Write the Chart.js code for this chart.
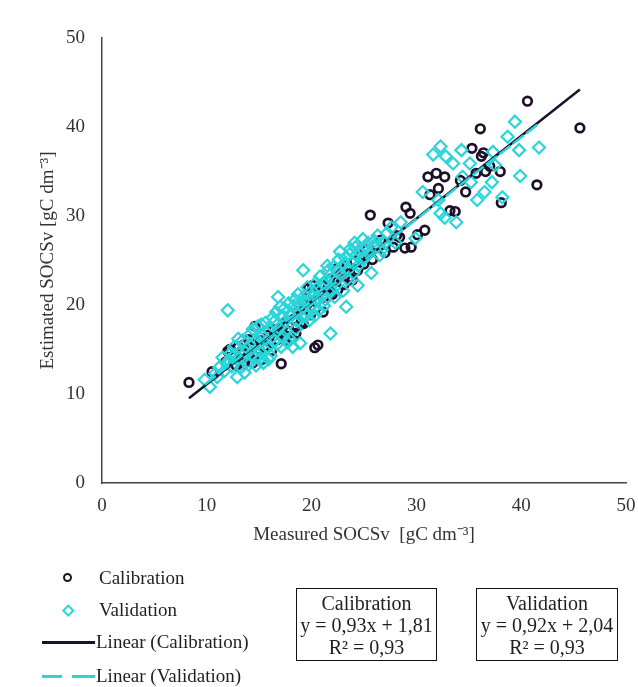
<!DOCTYPE html>
<html>
<head>
<meta charset="utf-8">
<script src="https://cdn.jsdelivr.net/npm/chart.js@4"></script>
<style>
  html, body { margin: 0; padding: 0; background: #fff; }
  #wrap { position: relative; width: 638px; height: 687px; font-family: "Liberation Serif", "Times New Roman", serif; color: #1f1f1f; }
  canvas { position: absolute; left: 0; top: 0; }
  .lg { position: absolute; font-size: 19px; line-height: 20px; white-space: nowrap; }
  .box { position: absolute; border: 1.5px solid #111; box-sizing: border-box; text-align: center; font-size: 20px; line-height: 22px; padding-top: 3px; white-space: nowrap; }
</style>
</head>
<body>
<div id="wrap">
  <canvas id="c" width="638" height="687"></canvas>
  <!-- legend -->
  <div style="position:absolute;left:63px;top:573px;width:5px;height:5px;border:2.8px solid #1e0f2a;border-radius:50%;"></div>
  <div class="lg" style="left:99px;top:568px;">Calibration</div>
  <div style="position:absolute;left:64px;top:606px;width:4.5px;height:4.5px;border:2px solid #2ad4da;transform:rotate(45deg);"></div>
  <div class="lg" style="left:99px;top:600px;">Validation</div>
  <div style="position:absolute;left:42px;top:641px;width:53px;height:2.5px;background:#1e0f2a;"></div>
  <div class="lg" style="left:96px;top:632px;">Linear (Calibration)</div>
  <div style="position:absolute;left:42px;top:675px;width:20px;height:2.5px;background:#2ad4da;"></div>
  <div style="position:absolute;left:72px;top:675px;width:23px;height:2.5px;background:#2ad4da;"></div>
  <div class="lg" style="left:96px;top:666px;">Linear (Validation)</div>
  <!-- equation boxes -->
  <div class="box" id="calBox" style="left:296px;top:588px;width:141px;height:73px;"></div>
  <div class="box" id="valBox" style="left:476px;top:588px;width:142px;height:73px;"></div>
</div>
<script>
// ---- data ----
const calibrationPoints = [
  [8.3,11.3],[10.5,12.5],[11.8,13.6],[12.0,14.8],[12.2,15.0],[12.5,14.2],[12.8,13.2],[13.0,15.3],[13.3,14.8],[13.5,13.4],
  [13.6,15.6],[13.9,14.1],[14.0,16.1],[14.2,15.2],[14.4,13.5],[14.6,17.6],[14.8,14.6],[15.0,15.0],[15.1,16.0],[15.3,13.9],
  [15.6,15.4],[15.9,16.6],[16.0,15.8],[16.2,14.9],[16.4,17.2],[16.7,16.1],[16.8,17.3],[17.0,16.8],[17.1,13.4],[17.3,17.9],
  [17.5,16.0],[17.6,16.5],[17.9,17.0],[18.1,16.2],[18.3,18.4],[18.5,16.8],[18.6,17.5],[18.8,19.3],[19.0,18.0],[19.2,17.9],
  [19.3,19.9],[19.5,20.8],[19.6,20.1],[19.7,21.9],[19.9,18.9],[20.0,21.3],[20.1,22.2],[20.3,15.2],[20.4,20.4],[20.6,15.5],
  [20.7,21.5],[20.9,22.3],[21.0,22.0],[21.1,19.2],[21.2,20.9],[21.5,21.8],[21.7,22.9],[21.9,21.5],[22.0,21.2],[22.2,22.6],
  [22.4,24.1],[22.5,21.7],[22.8,23.5],[23.0,23.8],[23.1,22.3],[23.4,24.4],[23.6,23.1],[23.9,22.8],[24.1,24.9],[24.4,23.9],
  [24.7,25.6],[25.0,24.6],[25.3,26.2],[25.6,30.1],[25.8,25.1],[26.2,26.7],[26.6,27.3],[27.0,25.9],[27.3,29.2],[27.8,26.5],
  [28.1,27.8],[28.4,27.6],[28.9,26.4],[29.0,31.0],[29.4,30.3],[29.5,26.5],[30.1,27.9],[30.8,28.4],[31.1,34.4],[31.3,32.4],
  [31.9,34.8],[32.1,33.1],[32.7,34.4],[33.2,30.6],[33.7,30.5],[34.2,34.0],[34.7,32.7],[35.3,37.6],[35.7,34.8],[36.1,39.8],
  [36.2,36.7],[36.4,37.1],[36.6,35.0],[37.0,35.6],[38.0,35.0],[38.1,31.5],[40.6,42.9],[41.5,33.5],[45.6,39.9]
];
const validationPoints = [
  [9.8,11.6],[10.3,10.8],[10.8,12.3],[11.0,11.9],[11.2,13.0],[11.5,14.1],[11.7,12.6],[11.9,13.4],[12.0,19.4],[12.1,13.8],
  [12.3,14.6],[12.4,13.1],[12.6,15.3],[12.7,14.4],[12.9,11.9],[13.0,16.2],[13.1,14.0],[13.3,13.0],[13.4,16.0],[13.6,12.4],
  [13.7,14.7],[13.8,15.1],[14.0,13.3],[14.1,15.5],[14.2,16.8],[14.3,14.4],[14.4,17.3],[14.5,15.7],[14.6,14.1],[14.7,13.2],
  [14.8,16.1],[14.9,17.6],[15.0,13.9],[15.1,14.8],[15.2,17.8],[15.3,16.5],[15.4,13.5],[15.5,15.0],[15.6,18.0],[15.7,16.9],
  [15.8,15.2],[15.9,13.9],[16.0,17.1],[16.1,14.3],[16.2,16.3],[16.3,18.6],[16.4,18.1],[16.5,16.0],[16.6,19.2],[16.7,15.6],
  [16.8,20.9],[16.9,17.4],[17.0,19.8],[17.1,15.3],[17.2,18.8],[17.3,16.4],[17.4,19.6],[17.5,18.2],[17.6,17.0],[17.7,15.8],
  [17.8,20.2],[17.9,16.2],[18.0,18.7],[18.1,19.0],[18.2,15.3],[18.3,19.9],[18.4,20.6],[18.5,17.3],[18.6,18.2],[18.7,21.2],
  [18.8,20.0],[18.9,15.7],[19.0,19.5],[19.1,18.6],[19.2,23.9],[19.3,21.0],[19.4,20.4],[19.5,18.8],[19.6,22.0],[19.7,20.5],
  [19.8,18.3],[19.9,19.9],[20.0,21.6],[20.1,20.9],[20.2,19.6],[20.3,18.8],[20.4,22.5],[20.5,21.9],[20.6,20.8],[20.7,19.4],
  [20.8,23.2],[21.0,21.1],[21.1,22.4],[21.2,19.9],[21.3,20.6],[21.4,22.8],[21.5,24.4],[21.6,23.9],[21.7,21.4],[21.8,16.8],
  [21.9,21.6],[22.0,22.9],[22.1,24.3],[22.2,20.9],[22.3,22.7],[22.5,23.8],[22.6,25.1],[22.7,26.0],[22.8,23.3],[23.0,21.6],
  [23.1,24.6],[23.2,25.3],[23.3,19.8],[23.4,22.9],[23.5,24.0],[23.6,25.7],[23.7,26.3],[23.9,24.7],[24.0,23.6],[24.1,27.0],
  [24.2,26.5],[24.3,25.6],[24.4,22.2],[24.5,24.5],[24.6,26.0],[24.8,25.2],[24.9,27.4],[25.1,25.3],[25.2,26.4],[25.4,27.0],
  [25.5,25.8],[25.7,23.6],[25.9,26.6],[26.0,27.2],[26.3,27.8],[26.5,25.6],[26.7,26.2],[27.0,27.0],[27.2,28.1],[27.6,28.7],
  [28.0,27.0],[28.5,29.3],[29.9,27.5],[30.6,32.7],[31.6,36.9],[32.1,31.8],[32.3,37.8],[32.3,30.3],[32.7,29.8],[32.8,36.7],
  [33.5,35.9],[33.8,29.3],[34.3,37.4],[34.4,34.4],[35.1,35.9],[35.2,33.8],[35.8,31.8],[36.5,32.7],[37.2,33.8],[37.3,37.2],
  [37.5,35.7],[38.2,32.1],[38.7,38.9],[39.4,40.6],[39.8,37.4],[39.9,34.5],[41.7,37.7]
];
// regression fits shown in the boxes
const calibrationFit = { slope: 0.93, intercept: 1.81, r2: 0.93, label: "Calibration" };
const validationFit  = { slope: 0.92, intercept: 2.04, r2: 0.93, label: "Validation" };
const axisTicks = [0, 10, 20, 30, 40, 50];

const calColor = '#1e0f2a';
const valColor = '#2ad4da';

function fmt(v) { return v.toFixed(2).replace('.', ','); }
function boxHtml(f) {
  return f.label + '<br>y = ' + fmt(f.slope) + 'x + ' + fmt(f.intercept) + '<br>R² = ' + fmt(f.r2);
}
document.getElementById('calBox').innerHTML = boxHtml(calibrationFit);
document.getElementById('valBox').innerHTML = boxHtml(validationFit);

function toXY(arr) { return arr.map(p => ({ x: p[0], y: p[1] })); }
function fitLine(arr, f) {
  const xs = arr.map(p => p[0]);
  const x0 = Math.min(...xs), x1 = Math.max(...xs);
  return [{ x: x0, y: f.slope * x0 + f.intercept }, { x: x1, y: f.slope * x1 + f.intercept }];
}

const tickFont = { family: '"Liberation Serif", "Times New Roman", serif', size: 19 };
const titleFont = { family: '"Liberation Serif", "Times New Roman", serif', size: 19 };

new Chart(document.getElementById('c'), {
  type: 'scatter',
  data: {
    datasets: [
      { label: 'Linear (Validation)', type: 'line', data: fitLine(validationPoints, validationFit),
        borderColor: valColor, borderWidth: 2.5, borderDash: [14, 3], pointRadius: 0, fill: false, order: 0 },
      { label: 'Linear (Calibration)', type: 'line', data: fitLine(calibrationPoints, calibrationFit),
        borderColor: calColor, borderWidth: 2.5, pointRadius: 0, fill: false, order: 1 },
      { label: 'Validation', data: toXY(validationPoints), pointStyle: 'rectRot', pointRadius: 6,
        borderColor: valColor, borderWidth: 2.2, backgroundColor: 'rgba(0,0,0,0)', order: 2 },
      { label: 'Calibration', data: toXY(calibrationPoints), pointStyle: 'circle', pointRadius: 4.3,
        borderColor: calColor, borderWidth: 2.7, backgroundColor: 'rgba(0,0,0,0)', order: 3 }
    ]
  },
  options: {
    responsive: false,
    animation: false,
    devicePixelRatio: 1,
    layout: { padding: { left: 0, right: 12, top: 38, bottom: 134 } },
    plugins: { legend: { display: false }, tooltip: { enabled: false } },
    scales: {
      x: {
        type: 'linear', min: axisTicks[0], max: axisTicks[axisTicks.length - 1],
        afterBuildTicks: s => { s.ticks = axisTicks.map(v => ({ value: v })); },
        afterFit: s => { s.height = 70; s.paddingRight = 0; s.paddingLeft = 0; },
        grid: { display: false, drawTicks: false },
        border: { display: true, color: '#444', width: 1.5 },
        ticks: { color: '#333', font: tickFont, padding: 12, maxRotation: 0 },
        title: { display: true, text: 'Measured SOCSv  [gC dm⁻³]', color: '#333', font: titleFont, padding: { top: 0, bottom: 6.6 } }
      },
      y: {
        type: 'linear', min: axisTicks[0], max: axisTicks[axisTicks.length - 1],
        afterBuildTicks: s => { s.ticks = axisTicks.map(v => ({ value: v })); },
        afterFit: s => { s.width = 102; },
        grid: { display: false, drawTicks: false },
        border: { display: true, color: '#444', width: 1.5 },
        ticks: { color: '#333', font: tickFont, padding: 17 },
        title: { display: true, text: 'Estimated SOCSv [gC dm⁻³]', color: '#333', font: titleFont, padding: { top: 36.6, bottom: 0 } }
      }
    }
  }
});
</script>
</body>
</html>
